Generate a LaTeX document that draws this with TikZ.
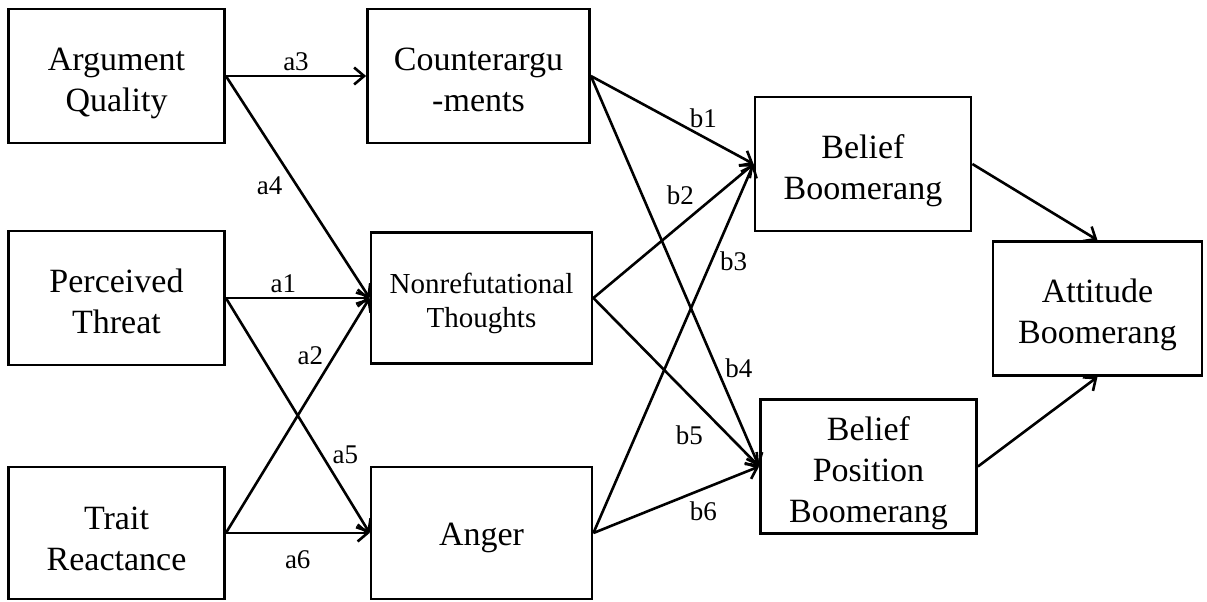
\documentclass[tikz,border=0pt]{standalone}
\usepackage{fontspec}
\setmainfont{Liberation Serif}
\usetikzlibrary{arrows.meta}

\begin{document}
\begin{tikzpicture}[auto, node distance=182.5pt,
	construct/.style={draw, line width=1.4pt, minimum width=108pt, minimum height=67pt,
		inner sep=0pt, align=center, font=\fontsize{17}{20.5}\selectfont,
		text height=39pt, text depth=4pt},
	path/.style={->, line width=1.3pt, >={Straight Barb[length=5pt,width=8.5pt]}},
	lbl/.style={font=\fontsize{13.5}{15}\selectfont, inner sep=2pt}]
	\useasboundingbox (0,0) rectangle (603.5pt,-300.5pt);
	\node[construct] (aq) at (58.25pt,-38pt)	{Argument\\Quality};
	\node[construct] (pt) [below of=aq, node distance=111pt]	{Perceived\\Threat};
	\node[construct, minimum height=66pt, text height=41pt] (tr) [below of=pt, node distance=117.5pt]	{Trait\\Reactance};
	\node[construct, minimum width=111pt] (ca) [right of=aq, node distance=181pt]	{Counterargu\\-ments};
	\node[construct, minimum width=110.5pt, minimum height=65.5pt, text height=33.5pt,
		font=\fontsize{14.5}{17}\selectfont]
		(nt) [right of=pt]	{Nonrefutational\\Thoughts};
	\node[construct, minimum width=110.5pt, minimum height=66pt, text height=16pt] (an) [right of=tr]	{Anger};
	\node[construct] (bb) [right of=ca, node distance=192.25pt, yshift=-44pt]	{Belief\\Boomerang};
	\node[construct, text height=59.5pt] (bpb) [right of=an, node distance=193.5pt, yshift=33.25pt]
		{Belief\\Position\\Boomerang};
	\node[construct, minimum width=104.5pt] (ab) [right of=nt, node distance=308pt, yshift=-5.25pt]	{Attitude\\Boomerang};
	\path[path]
		(aq.east)	edge				node[lbl] {a3}		(ca.west)
			edge	node[lbl, swap, pos=0.43] {a4}	(nt.west)
		(pt.east)	edge	node[lbl, pos=0.4] {a1}		(nt.west)
			edge	node[lbl, pos=0.72, inner sep=1pt] {a5}	(an.west)
		(tr.east)	edge	node[lbl, pos=0.7, inner sep=1pt] {a2}	(nt.west)
			edge	node[lbl, swap, inner sep=8pt] {a6}	(an.west)
		(ca.east)	edge	node[lbl, pos=0.6, inner sep=0pt] {b1}	(bb.west)
			edge	node[lbl, pos=0.78, inner sep=1pt] {b4}	(bpb.west)
		(nt.east)	edge	node[lbl, pos=0.66] {b2}	(bb.west)
			edge	node[lbl, swap, pos=0.71, inner sep=3.5pt] {b5}	(bpb.west)
		(an.east)	edge	node[lbl, swap, pos=0.77, inner sep=1pt] {b3}	(bb.west)
			edge	node[lbl, swap, pos=0.55] {b6}	(bpb.west)
		(bb.east)	edge				(ab.north)
		(bpb.east)	edge				(ab.south)
		;
\end{tikzpicture}
\end{document}
